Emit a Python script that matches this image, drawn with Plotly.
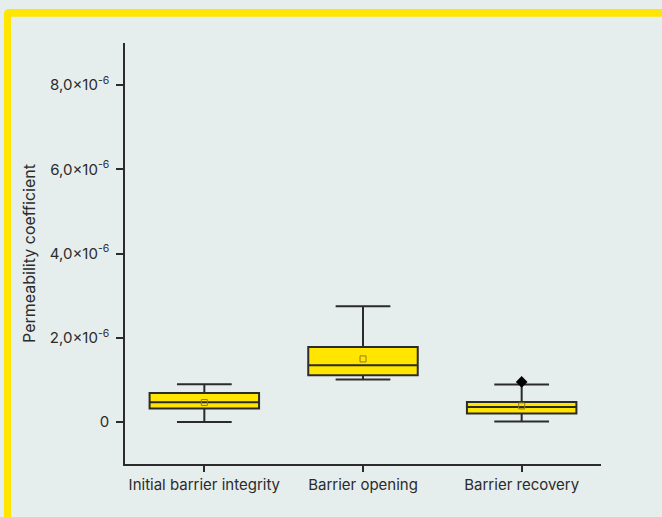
import plotly.graph_objects as go

# Summary statistics per phase (permeability coefficient)
phases = ["Initial barrier integrity", "Barrier opening", "Barrier recovery"]
lower_whisker = [0.0, 1.007e-6, 0.01e-6]
q1 = [0.318e-6, 1.109e-6, 0.200e-6]
median = [0.468e-6, 1.347e-6, 0.356e-6]
q3 = [0.689e-6, 1.781e-6, 0.475e-6]
upper_whisker = [0.895e-6, 2.748e-6, 0.888e-6]
mean = [0.46e-6, 1.496e-6, 0.38e-6]

outlier_phase = ["Barrier recovery"]
outlier_value = [0.95e-6]

tick_vals = [0, 2e-6, 4e-6, 6e-6, 8e-6]
tick_text = ["0", "2,0×10<sup>-6</sup>", "4,0×10<sup>-6</sup>",
             "6,0×10<sup>-6</sup>", "8,0×10<sup>-6</sup>"]

BG = "#E6EEED"
YELLOW = "#FFE500"
INK = "#2B2B2B"
FONT = "Inter"

fig = go.Figure()

fig.add_trace(go.Box(
    x=phases,
    q1=q1, median=median, q3=q3,
    lowerfence=lower_whisker, upperfence=upper_whisker,
    width=0.69,
    fillcolor=YELLOW,
    line=dict(color=INK, width=2),
    whiskerwidth=0.5,
    boxpoints=False,
    hoverinfo="skip",
    showlegend=False,
))

fig.add_trace(go.Scatter(
    x=phases, y=mean, mode="markers",
    marker=dict(symbol="square-open", size=6, color="#8F7E1A", line=dict(width=1)),
    showlegend=False, hoverinfo="skip",
))

fig.add_trace(go.Scatter(
    x=outlier_phase, y=outlier_value, mode="markers",
    marker=dict(symbol="diamond", size=9, color="#000000"),
    showlegend=False, hoverinfo="skip",
))

# Yellow frame along the top and left edges of the panel (rounded outer corner)
L, T, W, H = 125, 43, 476, 421
def px(x):
    return (x - L) / W
def py(y):
    return (T + H - y) / H
r = 5
x0, x1, y0, y1 = 4, 11, 9, 16.7
frame = (f"M {px(x0)},{py(540)} L {px(x0)},{py(y0 + r)} "
         f"Q {px(x0)},{py(y0)} {px(x0 + r)},{py(y0)} L {px(680)},{py(y0)} "
         f"L {px(680)},{py(y1)} L {px(x1)},{py(y1)} L {px(x1)},{py(540)} Z")
fig.add_shape(type="path", path=frame, xref="paper", yref="paper",
              fillcolor=YELLOW, line=dict(width=0), layer="below")

fig.update_layout(
    width=662, height=517,
    margin=dict(l=L, r=662 - L - W, t=T, b=517 - T - H),
    paper_bgcolor=BG, plot_bgcolor=BG,
    font=dict(family=FONT, size=15, color=INK),
    showlegend=False,
)

fig.update_xaxes(
    type="category", range=[-0.5, 2.5],
    showline=True, linecolor=INK, linewidth=1.5,
    ticks="outside", ticklen=6, tickcolor=INK, tickwidth=1.5,
    showgrid=False, zeroline=False,
    tickfont=dict(family=FONT, size=15, color=INK),
)

fig.update_yaxes(
    range=[-1e-6, 9e-6],
    tickvals=tick_vals, ticktext=tick_text,
    showline=True, linecolor=INK, linewidth=1.5,
    ticks="outside", ticklen=7, tickcolor=INK, tickwidth=1.5,
    ticklabelstandoff=4,
    showgrid=False, zeroline=False,
    title=dict(text="Permeability coefficient", font=dict(family=FONT, size=16, color=INK), standoff=10),
    tickfont=dict(family=FONT, size=15, color=INK),
)

fig.write_html("out.html")
